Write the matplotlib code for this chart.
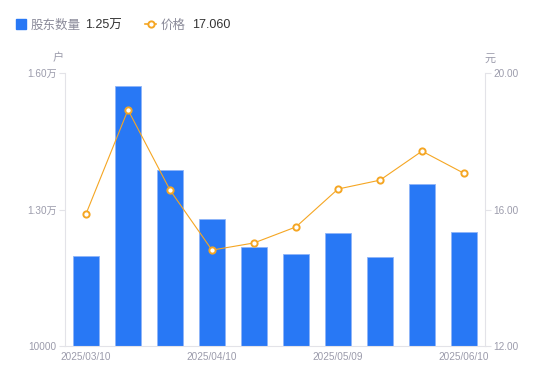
import matplotlib.pyplot as plt
import numpy as np

plt.rcParams['font.family'] = ['Liberation Sans', 'Noto Sans CJK SC', 'DejaVu Sans']

dates = ['2025/03/10', '2025/03/20', '2025/03/31', '2025/04/10', '2025/04/18',
         '2025/04/30', '2025/05/09', '2025/05/20', '2025/05/30', '2025/06/10']
holders = [11980, 15710, 13870, 12790, 12180, 12020, 12480, 11960, 13560, 12500]
price = [15.87, 18.92, 16.57, 14.81, 15.02, 15.49, 16.60, 16.86, 17.71, 17.06]
left_ticks = [10000, 13000, 16000]
left_labels = ['10000', '1.30万', '1.60万']
right_ticks = [12, 16, 20]

blue = '#2878f5'
orange = '#f5a623'
gray = '#9b9bab'
axcol = '#e3e3e8'

fig = plt.figure(figsize=(5.5, 3.81), dpi=100)
ax = fig.add_axes([65/550, 35/381, 420/550, 273/381])
ax2 = ax.twinx()

x = np.arange(len(dates))
ax.bar(x, holders, width=0.6, color=blue, edgecolor='#8fb5f8', linewidth=0.6, zorder=2)
ax.set_ylim(10000, 16000)
ax.set_xlim(-0.5, len(dates) - 0.5)
ax.set_yticks(left_ticks)
ax.set_yticklabels(left_labels)
ax.set_xticks(x[::3])
ax.set_xticklabels(dates[::3])

ax2.plot(x, price, color=orange, lw=0.8, marker='o', ms=4.5, mfc='white',
         mec=orange, mew=1.4, zorder=3)
ax2.set_ylim(12, 20)
ax2.set_yticks(right_ticks)
ax2.set_yticklabels(['%.2f' % v for v in right_ticks])

for a in (ax, ax2):
    for s in a.spines.values():
        s.set_visible(False)
    a.tick_params(colors=gray, labelsize=7.2, length=4, width=0.8, color=axcol, pad=2)
ax.spines['left'].set_visible(True)
ax.spines['left'].set_color(axcol)
ax.spines['bottom'].set_visible(True)
ax.spines['bottom'].set_color(axcol)
ax2.spines['right'].set_visible(True)
ax2.spines['right'].set_color(axcol)
ax.tick_params(axis='x', length=0, pad=4)

fig.text(58/550, 1 - 58.5/381, '户', color=gray, fontsize=8, ha='center', va='center')
fig.text(490/550, 1 - 58.5/381, '元', color=gray, fontsize=8, ha='center', va='center')

# legend row
ly = 1 - 25.5/381
fig.patches.append(plt.Rectangle((16/550, 1 - 29/381), 10/550, 10/381,
                                 transform=fig.transFigure, color=blue, figure=fig))
fig.text(31/550, ly, '股东数量', color='#8a8a99', fontsize=9, va='center')
fig.text(85/550, ly, '1.25万', color='#333333', fontsize=9, va='center')
fig.add_artist(plt.Line2D([145/550, 156/550], [1 - 24/381] * 2, color=orange, lw=1.2))
fig.add_artist(plt.Line2D([150.5/550], [1 - 24/381], color=orange, marker='o', ms=4.5,
                          mfc='white', mew=1.4))
fig.text(161/550, ly, '价格', color='#8a8a99', fontsize=9, va='center')
fig.text(192/550, ly, '17.060', color='#333333', fontsize=9, va='center')

fig.savefig('out.png', dpi=100)
